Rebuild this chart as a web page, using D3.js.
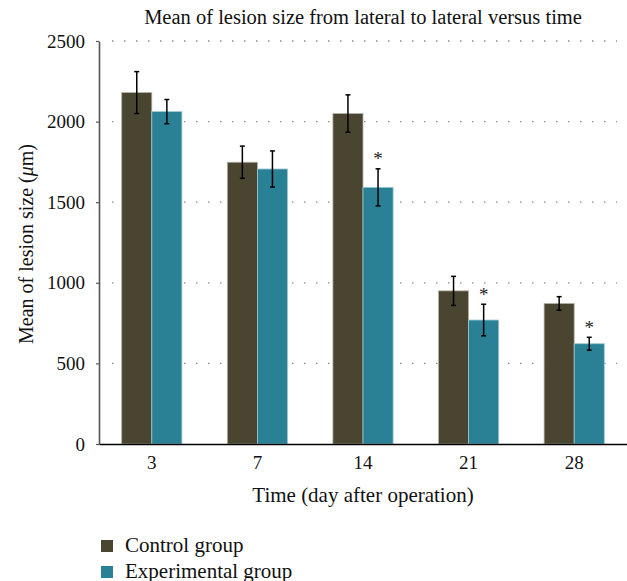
<!DOCTYPE html>
<html>
<head>
<meta charset="utf-8">
<script src="https://cdn.jsdelivr.net/npm/d3@7"></script>
<style>
  body { margin: 0; background: #fff; }
</style>
</head>
<body>
<div id="visualization"></div>
<script>
// Data
const days = ['3', '7', '14', '21', '28'];
const controlMeans = [2180, 1748, 2050, 950, 872];
const controlErr = [130, 100, 116, 90, 42];
const experimentalMeans = [2062, 1706, 1592, 769, 622];
const experimentalErr = [75, 112, 115, 98, 40];
const significant = [false, false, true, true, true];
const yTicks = [0, 500, 1000, 1500, 2000, 2500];
const groups = ['Control group', 'Experimental group'];
const colors = ['#4a4530', '#2a8196'];

const serif = '"Liberation Serif"';

document.addEventListener('DOMContentLoaded', () => {
    const width = 627;
    const height = 581;
    const margin = { top: 41, right: 0, bottom: 137, left: 99 };
    const plotBottom = height - margin.bottom;

    const svg = d3.select('#visualization')
        .append('svg')
        .attr('width', width)
        .attr('height', height);

    const x0 = d3.scaleBand()
        .domain(days)
        .range([margin.left, width - margin.right])
        .paddingInner(0.43)
        .paddingOuter(0.215);

    const x1 = d3.scaleBand()
        .domain([0, 1])
        .range([0, x0.bandwidth()]);

    const y = d3.scaleLinear()
        .domain([0, 2500])
        .range([plotBottom, margin.top]);

    // Dotted gridlines
    svg.append('g')
        .selectAll('line')
        .data(yTicks.filter(d => d > 0))
        .enter()
        .append('line')
        .attr('x1', 112)
        .attr('x2', 617)
        .attr('y1', d => y(d))
        .attr('y2', d => y(d))
        .attr('stroke', '#8a8a8a')
        .attr('stroke-width', 1.3)
        .attr('stroke-dasharray', '1.5 10.5');

    // Bars
    const rows = days.map((d, i) => ({
        day: d,
        values: [
            { g: 0, mean: controlMeans[i], err: controlErr[i], sig: false },
            { g: 1, mean: experimentalMeans[i], err: experimentalErr[i], sig: significant[i] }
        ]
    }));

    const grp = svg.append('g')
        .selectAll('g')
        .data(rows)
        .enter()
        .append('g')
        .attr('transform', d => `translate(${x0(d.day)},0)`);

    grp.selectAll('rect')
        .data(d => d.values)
        .enter()
        .append('rect')
        .attr('x', d => x1(d.g))
        .attr('y', d => y(d.mean))
        .attr('width', x1.bandwidth())
        .attr('height', d => plotBottom - y(d.mean))
        .attr('fill', d => colors[d.g])
        .attr('stroke', d => d.g === 0 ? '#b5b2a8' : '#9cc7d1')
        .attr('stroke-width', 0.8);

    // Error bars
    const eb = grp.selectAll('g.err')
        .data(d => d.values)
        .enter()
        .append('g')
        .attr('class', 'err')
        .attr('stroke', '#000')
        .attr('stroke-width', 1.5);

    const cx = d => x1(d.g) + x1.bandwidth() / 2;
    eb.append('line')
        .attr('x1', cx).attr('x2', cx)
        .attr('y1', d => y(d.mean + d.err))
        .attr('y2', d => y(d.mean - d.err));
    eb.append('line')
        .attr('x1', d => cx(d) - 2.5).attr('x2', d => cx(d) + 2.5)
        .attr('y1', d => y(d.mean + d.err))
        .attr('y2', d => y(d.mean + d.err));
    eb.append('line')
        .attr('x1', d => cx(d) - 2.5).attr('x2', d => cx(d) + 2.5)
        .attr('y1', d => y(d.mean - d.err))
        .attr('y2', d => y(d.mean - d.err));

    // Significance stars
    grp.selectAll('text.star')
        .data(d => d.values.filter(v => v.sig))
        .enter()
        .append('text')
        .attr('class', 'star')
        .attr('x', cx)
        .attr('y', d => y(d.mean + d.err) - 3.5)
        .attr('text-anchor', 'middle')
        .style('font-family', serif)
        .style('font-size', '19px')
        .attr('fill', '#222')
        .text('*');

    // Y axis
    const yAxis = svg.append('g')
        .attr('transform', `translate(${margin.left},0)`)
        .call(d3.axisLeft(y).tickValues(yTicks).tickFormat(d3.format('d'))
            .tickSize(3).tickSizeOuter(0).tickPadding(11));
    yAxis.attr('font-family', null);
    yAxis.select('.domain').attr('stroke', '#555').attr('stroke-width', 1.6);
    yAxis.selectAll('.tick line').attr('stroke', '#555').attr('stroke-width', 1.2);
    yAxis.selectAll('.tick text')
        .style('font-family', serif)
        .style('font-size', '19px')
        .attr('fill', '#111');

    // X axis
    const xAxis = svg.append('g')
        .attr('transform', `translate(0,${plotBottom})`)
        .call(d3.axisBottom(x0).tickSize(0).tickPadding(12));
    xAxis.attr('font-family', null);
    xAxis.select('.domain').attr('stroke', '#000').attr('stroke-width', 1.6);
    xAxis.selectAll('.tick text')
        .style('font-family', serif)
        .style('font-size', '19px')
        .attr('fill', '#111');

    // Title
    svg.append('text')
        .attr('x', 363)
        .attr('y', 24)
        .attr('text-anchor', 'middle')
        .style('font-family', serif)
        .style('font-size', '20.5px')
        .attr('fill', '#111')
        .text('Mean of lesion size from lateral to lateral versus time');

    // Axis titles
    svg.append('text')
        .attr('x', 363)
        .attr('y', 502)
        .attr('text-anchor', 'middle')
        .style('font-family', serif)
        .style('font-size', '21px')
        .attr('fill', '#111')
        .text('Time (day after operation)');

    const yl = svg.append('text')
        .attr('transform', 'translate(33,244) rotate(-90)')
        .attr('text-anchor', 'middle')
        .style('font-family', serif)
        .style('font-size', '20px')
        .attr('fill', '#111');
    yl.append('tspan').text('Mean of lesion size (');
    yl.append('tspan').style('font-style', 'italic').text('\u03bc');
    yl.append('tspan').text('m)');

    // Legend
    const lg = svg.append('g')
        .selectAll('g')
        .data(groups)
        .enter()
        .append('g')
        .attr('transform', (d, i) => `translate(101,${540 + i * 26})`);
    lg.append('rect')
        .attr('width', 12)
        .attr('height', 12)
        .attr('fill', (d, i) => colors[i]);
    lg.append('text')
        .attr('x', 24)
        .attr('y', 11.5)
        .style('font-family', serif)
        .style('font-size', '21px')
        .attr('fill', '#111')
        .text(d => d);
});
</script>
</body>
</html>
